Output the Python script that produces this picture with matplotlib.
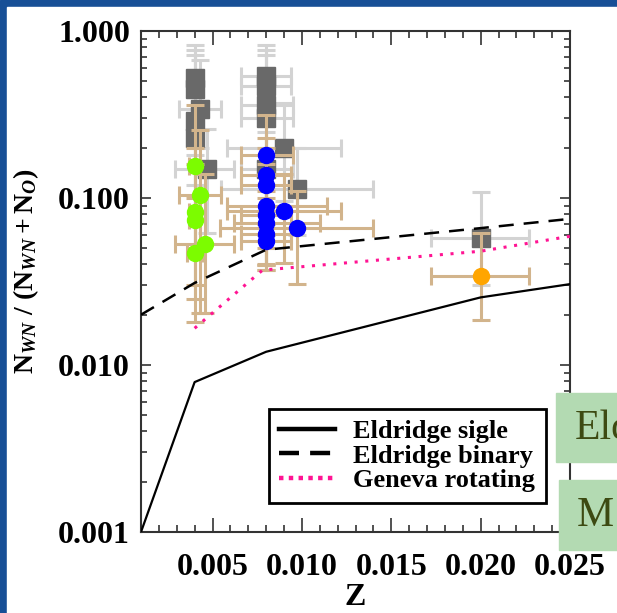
import matplotlib
matplotlib.use('Agg')
import matplotlib.pyplot as plt
import numpy as np
from matplotlib.lines import Line2D
from matplotlib.patches import Rectangle
from matplotlib.ticker import FixedLocator, MultipleLocator, LogLocator, NullFormatter

plt.rcParams['font.family'] = ['Liberation Serif', 'DejaVu Serif']
plt.rcParams['mathtext.fontset'] = 'custom'
plt.rcParams['mathtext.rm'] = 'Liberation Serif:bold'
plt.rcParams['mathtext.it'] = 'Liberation Serif:italic:bold'
plt.rcParams['mathtext.bf'] = 'Liberation Serif:bold'

# ---- data ----
# gray squares (with light gray error bars)
gray_z = [0.0040, 0.0040, 0.0043, 0.0040, 0.0040, 0.0047, 0.0080, 0.0080, 0.0080, 0.0080, 0.0090, 0.0080, 0.0097, 0.0200]
gray_n = [0.52, 0.45, 0.34, 0.29, 0.23, 0.15, 0.54, 0.47, 0.36, 0.30, 0.20, 0.15, 0.113, 0.058]
gray_z_lo = [0.0037, 0.0037, 0.0031, 0.0037, 0.0037, 0.0029, 0.0066, 0.0066, 0.0066, 0.0066, 0.0058, 0.0066, 0.0055, 0.0172]
gray_z_hi = [0.0043, 0.0043, 0.0055, 0.0043, 0.0043, 0.0062, 0.0094, 0.0094, 0.0095, 0.0095, 0.0122, 0.0095, 0.0140, 0.0227]
gray_n_lo = [0.40, 0.30, 0.20, 0.18, 0.12, 0.062, 0.35, 0.30, 0.20, 0.18, 0.096, 0.08, 0.06, 0.030]
gray_n_hi = [0.82, 0.77, 0.67, 0.72, 0.40, 0.26, 0.82, 0.77, 0.72, 0.50, 0.37, 0.25, 0.20, 0.109]

# green circles (tan error bars)
green_z = [0.0040, 0.0043, 0.0040, 0.0040, 0.0046, 0.0040]
green_n = [0.156, 0.104, 0.083, 0.074, 0.053, 0.047]
green_z_lo = [0.0037, 0.0031, 0.0037, 0.0037, 0.0029, 0.0036]
green_z_hi = [0.0043, 0.0055, 0.0043, 0.0043, 0.0062, 0.0044]
green_n_lo = [0.05, 0.0205, 0.0182, 0.03, 0.0205, 0.025]
green_n_hi = [0.36, 0.255, 0.20, 0.16, 0.14, 0.10]

# blue circles (tan error bars)
blue_z = [0.0080, 0.0080, 0.0080, 0.0080, 0.0080, 0.0080, 0.0080, 0.0080, 0.0090, 0.0097]
blue_n = [0.181, 0.137, 0.119, 0.089, 0.079, 0.071, 0.061, 0.055, 0.084, 0.066]
blue_z_lo = [0.0066, 0.0066, 0.0066, 0.0058, 0.0066, 0.0062, 0.0066, 0.0066, 0.0058, 0.0054]
blue_z_hi = [0.0095, 0.0094, 0.0094, 0.0114, 0.0094, 0.0110, 0.0094, 0.0094, 0.0122, 0.0140]
blue_n_lo = [0.07, 0.06, 0.05, 0.0397, 0.0372, 0.04, 0.0372, 0.0397, 0.041, 0.0305]
blue_n_hi = [0.314, 0.228, 0.20, 0.16, 0.14, 0.12, 0.11, 0.10, 0.14, 0.11]

# orange circle
orange_z = [0.020]
orange_n = [0.034]
orange_z_lo = [0.0172]
orange_z_hi = [0.0227]
orange_n_lo = [0.0187]
orange_n_hi = [0.062]

# model lines
single_z = [0.001, 0.004, 0.008, 0.020, 0.025]
single_n = [0.001, 0.0079, 0.012, 0.0254, 0.0305]
binary_z = [0.001, 0.004, 0.008, 0.020, 0.025]
binary_n = [0.0200, 0.031, 0.049, 0.066, 0.075]
geneva_z = [0.004, 0.0078, 0.020, 0.025]
geneva_n = [0.0166, 0.037, 0.048, 0.059]

legend_labels = ['Eldridge sigle', 'Eldridge binary', 'Geneva rotating']


def err(v, lo, hi):
    v = np.array(v); return [v - np.array(lo), np.array(hi) - v]


fig = plt.figure(figsize=(6.17, 6.13), dpi=100)
# slide background
fig.patches.append(Rectangle((0, 0), 1, 1, transform=fig.transFigure, color='#174f96', zorder=-10))
fig.patches.append(Rectangle((7 / 617, 0), 1, 1 - 7 / 613, transform=fig.transFigure, color='white', zorder=-9))

ax = fig.add_axes([141 / 617, 81 / 613, 429 / 617, 501 / 613])
ax.set_facecolor('none')

ax.errorbar(gray_z, gray_n, xerr=err(gray_z, gray_z_lo, gray_z_hi), yerr=err(gray_n, gray_n_lo, gray_n_hi),
            fmt='none', ecolor='#d3d3d3', elinewidth=2.2, capsize=6.5, capthick=2.2, zorder=1)
ax.plot(gray_z, gray_n, 's', color='#696969', ms=12.5, zorder=2)

for zz, nn, zl, zh, nl, nh in [(green_z, green_n, green_z_lo, green_z_hi, green_n_lo, green_n_hi),
                               (blue_z, blue_n, blue_z_lo, blue_z_hi, blue_n_lo, blue_n_hi),
                               (orange_z, orange_n, orange_z_lo, orange_z_hi, orange_n_lo, orange_n_hi)]:
    ax.errorbar(zz, nn, xerr=err(zz, zl, zh), yerr=err(nn, nl, nh),
                fmt='none', ecolor='#d2b48c', elinewidth=2.2, capsize=6.5, capthick=2.2, zorder=3)

ax.plot(blue_z, blue_n, 'o', color='#0000ff', ms=11.5, zorder=4)
ax.plot(green_z, green_n, 'o', color='#7cfc00', ms=11.5, zorder=5)
ax.plot(orange_z, orange_n, 'o', color='#ffa500', ms=11.5, zorder=5)

ax.plot(single_z, single_n, '-', color='black', lw=1.6, zorder=6)
ax.plot(binary_z, binary_n, color='black', lw=1.8, dashes=(6, 4), zorder=6)
ax.plot(geneva_z, geneva_n, color='#ff1493', lw=2.2, dashes=(1, 2.5), zorder=6)

ax.set_yscale('log')
ax.set_xlim(0.001, 0.025)
ax.set_ylim(0.001, 1.0)

ax.yaxis.set_major_locator(FixedLocator([0.001, 0.01, 0.1, 1.0]))
ax.set_yticklabels(['0.001', '0.010', '0.100', '1.000'])
ax.yaxis.set_minor_locator(LogLocator(base=10, subs=np.arange(2, 10)))
ax.yaxis.set_minor_formatter(NullFormatter())
ax.xaxis.set_major_locator(FixedLocator([0.005, 0.010, 0.015, 0.020, 0.025]))
ax.set_xticklabels(['0.005', '0.010', '0.015', '0.020', '0.025'])
ax.xaxis.set_minor_locator(MultipleLocator(0.001))

ax.tick_params(which='both', direction='in', top=True, right=True, color='#333333', width=1.2)
ax.tick_params(axis='x', which='major', length=10, pad=15, labelsize=23)
ax.tick_params(axis='x', which='minor', length=5)
ax.tick_params(axis='y', which='major', length=7, pad=8, labelsize=23)
ax.tick_params(axis='y', which='minor', length=4)
for lab in ax.get_xticklabels() + ax.get_yticklabels():
    lab.set_fontweight('bold')
for sp in ax.spines.values():
    sp.set_linewidth(1.5)
    sp.set_color('#333333')

ax.set_xlabel('Z', fontsize=23, fontweight='bold')
ax.xaxis.set_label_coords(0.5, -0.102)
ax.set_ylabel(r'$\mathrm{N}_{\mathit{WN}}\ /\ (\mathrm{N}_{\mathit{WN}} + \mathrm{N}_{\mathit{O}})$', fontsize=20)
ax.yaxis.set_label_coords(-0.232, 0.52)

handles = [Line2D([], [], color='black', lw=3.2),
           Line2D([], [], color='black', lw=3.2, dashes=(4.5, 2.5)),
           Line2D([], [], color='#ff1493', lw=3.2, dashes=(1, 1.2))]
leg = ax.legend(handles, legend_labels, loc='lower left', bbox_to_anchor=(0.298, 0.058),
                prop={'family': 'Liberation Serif', 'weight': 'bold', 'size': 19},
                frameon=True, fancybox=False, framealpha=1, edgecolor='black', borderaxespad=0,
                handlelength=2.1, handletextpad=0.7, labelspacing=0.05, borderpad=0.4)
leg.get_frame().set_linewidth(2)
leg.set_zorder(10)

# green boxes from the slide, drawn over the figure
for (x0, y0, h, txt, tx, ty) in [(556, 151, 69, 'Eld', 575, 184), (559, 63, 70, 'M', 577, 97)]:
    fig.patches.append(Rectangle((x0 / 617, y0 / 613), 1, h / 613, transform=fig.transFigure,
                                 color='#b3dab2', zorder=20))
    fig.text(tx / 617, ty / 613, txt, fontsize=30, color='#3d4a12', family='Liberation Serif',
             va='center', ha='left', zorder=21)

fig.savefig('out.png', dpi=100)
